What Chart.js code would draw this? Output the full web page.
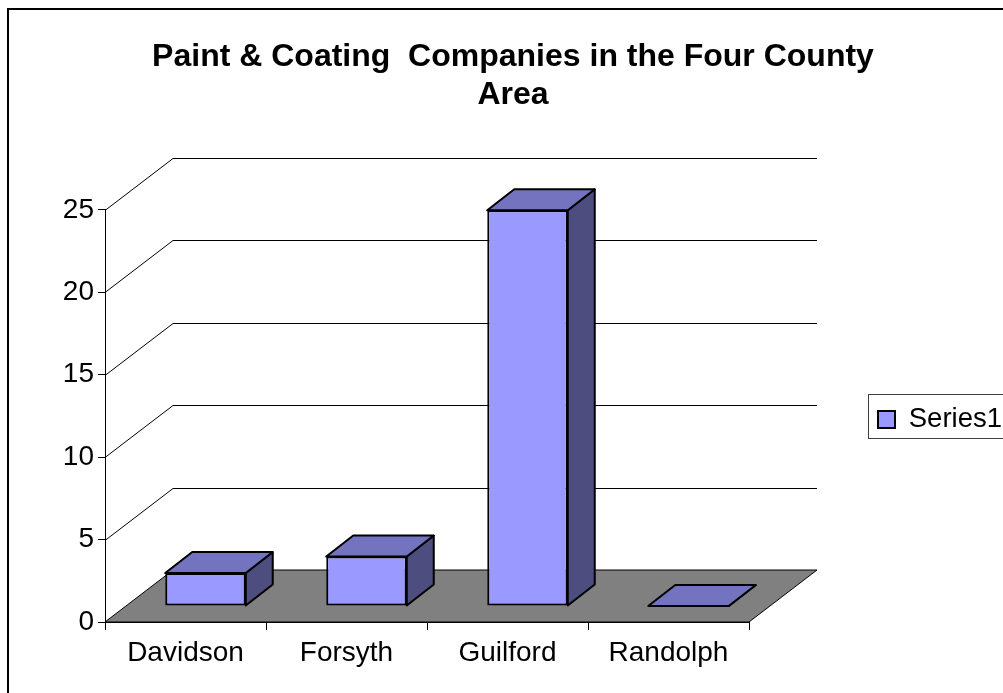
<!DOCTYPE html>
<html>
<head>
<meta charset="utf-8">
<title>Paint &amp; Coating Companies</title>
<script src="https://cdn.jsdelivr.net/npm/chart.js@4/dist/chart.umd.min.js"></script>
<style>
  body { margin: 0; background: #fff; }
  canvas { display: block; }
</style>
</head>
<body>
<canvas id="chart" width="1003" height="693"></canvas>
<script>
const counties = ["Davidson", "Forsyth", "Guilford", "Randolph"];
const companyCounts = [2, 3, 24, 0];
const seriesName = "Series1";
const titleLines = ["Paint & Coating  Companies in the Four County", "Area"];

const FONT = "'Liberation Sans', Arial, sans-serif";
const WALL_DX = 68, WALL_DY = 52;   // depth of the floor / side wall
const BAR_DX = 20, BAR_DY = 16;     // bars stand this far in from the front edge
const FACE_DX = 27, FACE_DY = 21;   // depth of one bar

function poly(ctx, pts, fill) {
  ctx.beginPath();
  pts.forEach((p, i) => i ? ctx.lineTo(p[0], p[1]) : ctx.moveTo(p[0], p[1]));
  ctx.closePath();
  if (fill) { ctx.fillStyle = fill; ctx.fill(); }
  ctx.stroke();
}

const pseudo3d = {
  id: "pseudo3d",
  beforeDraw(chart) {
    const ctx = chart.ctx;
    ctx.save();
    ctx.strokeStyle = "#000";
    ctx.lineWidth = 2;
    ctx.strokeRect(8, 9, 1100, 800);
    ctx.restore();
  },
  afterLayout(chart) {
    // same spots as the excel picture: title a bit right of center, legend against the edge
    chart.titleBlock.left = 0;
    chart.titleBlock.right = 1026;
    const lg = chart.legend;
    lg.left = 868;
    lg.right = 1003;
    lg.top = 401;
    lg.bottom = 438;
  },
  beforeDatasetsDraw(chart) {
    const { ctx, scales: { x, y }, chartArea: a } = chart;
    ctx.save();
    ctx.strokeStyle = "#000";
    ctx.lineWidth = 1;
    // back wall lines and the diagonals on the side wall
    y.ticks.forEach(t => {
      if (t.value === 0) return;
      const py = Math.round(y.getPixelForValue(t.value)) + 0.5;
      ctx.beginPath();
      ctx.moveTo(a.left, py);
      ctx.lineTo(a.left + WALL_DX, py - WALL_DY);
      ctx.lineTo(a.right + WALL_DX, py - WALL_DY);
      ctx.stroke();
    });
    // floor
    const y0 = y.getPixelForValue(0);
    poly(ctx, [[a.left, y0], [a.right, y0], [a.right + WALL_DX, y0 - WALL_DY], [a.left + WALL_DX, y0 - WALL_DY]], "#808080");
    ctx.restore();
  },
  beforeDatasetDraw(chart) {
    const ctx = chart.ctx;
    ctx.save();
    ctx.translate(BAR_DX, -BAR_DY);
    ctx.strokeStyle = "#000";
    ctx.lineWidth = 2;
    ctx.lineJoin = "round";
    chart.getDatasetMeta(0).data.forEach(bar => {
      const l = bar.x - bar.width / 2, r = bar.x + bar.width / 2;
      poly(ctx, [[r, bar.y], [r + FACE_DX, bar.y - FACE_DY], [r + FACE_DX, bar.base - FACE_DY], [r, bar.base]], "#4d4d80");
      poly(ctx, [[l, bar.y], [r, bar.y], [r + FACE_DX, bar.y - FACE_DY], [l + FACE_DX, bar.y - FACE_DY]], "#7373bf");
    });
  },
  afterDatasetDraw(chart) {
    chart.ctx.restore();
  },
  afterDraw(chart) {
    // legend frame, runs off the right edge
    const ctx = chart.ctx;
    ctx.save();
    ctx.strokeStyle = "#404040";
    ctx.lineWidth = 1;
    ctx.strokeRect(868.5, 394.5, 160, 44);
    ctx.restore();
  }
};

new Chart(document.getElementById("chart"), {
  type: "bar",
  data: {
    labels: counties,
    datasets: [{
      label: seriesName,
      data: companyCounts,
      backgroundColor: "#9999ff",
      borderColor: "#000",
      borderWidth: 2,
      borderSkipped: false,
      barPercentage: 0.5,
      categoryPercentage: 1
    }]
  },
  plugins: [pseudo3d],
  options: {
    responsive: false,
    animation: false,
    layout: { padding: { left: 0, right: 254, top: 0, bottom: 0 } },
    plugins: {
      tooltip: { enabled: false },
      title: {
        display: true,
        text: titleLines,
        color: "#000",
        font: { family: FONT, size: 32, weight: "bold", lineHeight: 1.2 },
        padding: { top: 38, bottom: 95 }
      },
      legend: {
        position: "chartArea",
        labels: {
          color: "#000",
          font: { family: FONT, size: 27.5 },
          boxWidth: 17,
          boxHeight: 17,
          padding: 10
        }
      }
    },
    scales: {
      x: {
        afterFit(s) { s.height = 71; },
        grid: { drawOnChartArea: false, color: "#000", tickLength: 8, z: 1 },
        border: { color: "#000", z: 1 },
        ticks: { color: "#000", font: { family: FONT, size: 28 }, padding: 6, maxRotation: 0 }
      },
      y: {
        min: 0,
        max: 25,
        afterFit(s) { s.width = 105; },
        grid: { drawOnChartArea: false, color: "#000", tickLength: 7, z: 1 },
        border: { color: "#000", z: 1 },
        ticks: { color: "#000", stepSize: 5, font: { family: FONT, size: 28 }, padding: 4 }
      }
    }
  }
});
</script>
</body>
</html>
